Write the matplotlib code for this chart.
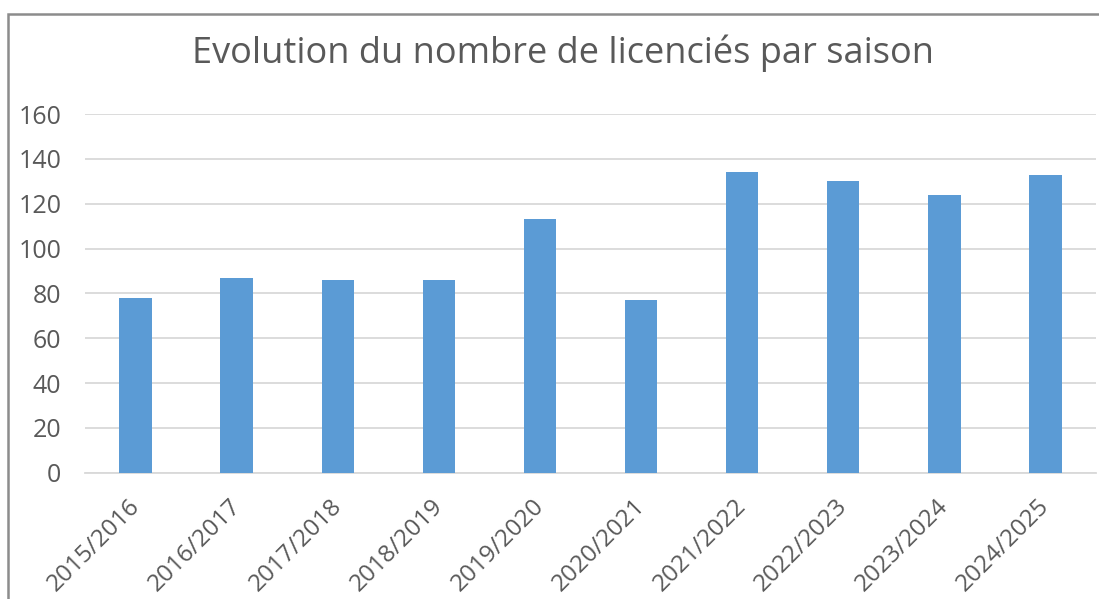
import matplotlib
matplotlib.use("Agg")
import matplotlib.pyplot as plt
import matplotlib.transforms as mtransforms
from matplotlib.patches import Rectangle

saisons = ["2015/2016", "2016/2017", "2017/2018", "2018/2019", "2019/2020",
           "2020/2021", "2021/2022", "2022/2023", "2023/2024", "2024/2025"]
licencies = [78, 87, 86, 86, 113, 77, 134, 130, 124, 133]
yticks = [0, 20, 40, 60, 80, 100, 120, 140, 160]

W, H = 1099, 599
TXT = "#595959"

plt.rcParams["font.family"] = ["Open Sans", "DejaVu Sans"]

fig = plt.figure(figsize=(W / 100, H / 100), dpi=100)
ax = fig.add_axes([85 / W, (H - 472.7) / H, (1096 - 85) / W, (472.7 - 114) / H])

x = range(len(saisons))
ax.bar(x, licencies, width=0.32, color="#5B9BD5", zorder=3)

ax.set_xlim(-0.5, len(saisons) - 0.5)
ax.set_ylim(0, 160)
ax.set_yticks(yticks)
ax.set_yticklabels([str(v) for v in yticks], color=TXT, fontsize=18)
ax.set_xticks(list(x))
ax.set_xticklabels(saisons, rotation=45, ha="right", rotation_mode="anchor",
                   color=TXT, fontsize=17.5)
ax.tick_params(length=0)
ax.tick_params(axis="y", pad=17)
ax.tick_params(axis="x", pad=14)

# nudge the rotated labels a little to the left, like the original
shift = mtransforms.ScaledTranslation(-8 / 100, -2 / 100, fig.dpi_scale_trans)
for lbl in ax.get_xticklabels():
    lbl.set_transform(lbl.get_transform() + shift)

ax.grid(axis="y", color="#D9D9D9", linewidth=1.3, zorder=0)
for s in ["top", "right", "left"]:
    ax.spines[s].set_visible(False)
ax.spines["bottom"].set_color("#D9D9D9")
ax.spines["bottom"].set_linewidth(1.3)

fig.text(563 / W, (H - 53) / H, "Evolution du nombre de licenciés par saison",
         ha="center", va="center", fontsize=26, color=TXT)

# chart area border
fig.patches.append(Rectangle((8 / W, -0.05), 1.2, (H - 14) / H + 0.05,
                             transform=fig.transFigure, fill=False,
                             edgecolor="#8C8C8C", linewidth=1.8))

fig.savefig("out.png", dpi=100)
